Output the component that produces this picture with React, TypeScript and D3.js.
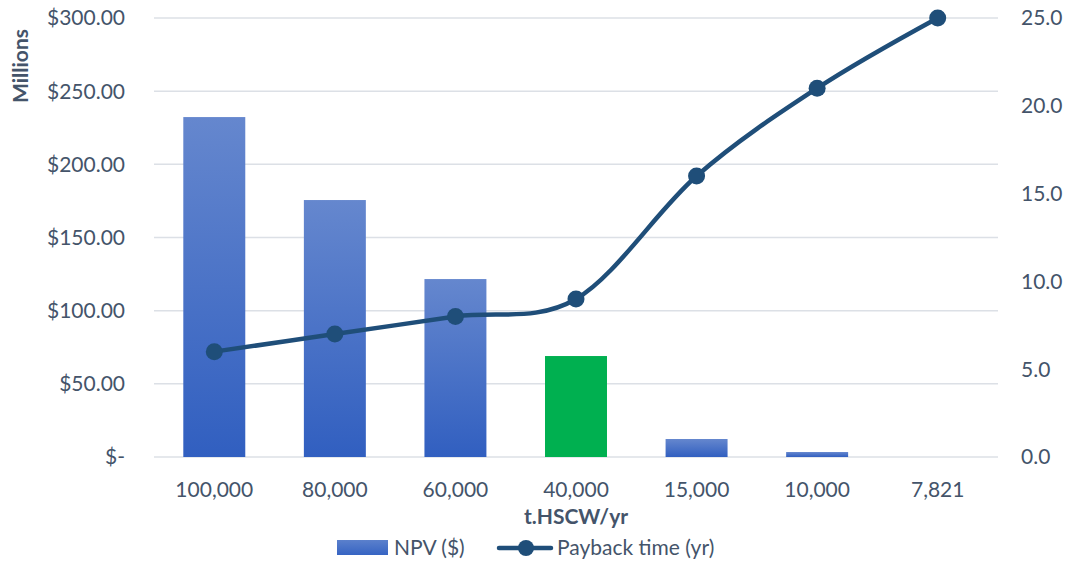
import React from "react";
import * as d3 from "d3";

const categories = ["100,000", "80,000", "60,000", "40,000", "15,000", "10,000", "7,821"];
const npvMillions = [232.3, 175.6, 121.6, 69.0, 12.3, 3.4, 0];
const paybackYears = [6, 7, 8, 9, 16, 21, 25];
const highlightCategory = "40,000";
const leftTicks = [0, 50, 100, 150, 200, 250, 300];
const rightTicks = [0, 5, 10, 15, 20, 25];

const W = 1070;
const H = 563;
const margin = { left: 154, right: 72, top: 18, bottom: 106 };
const FONT = "Lato, 'Open Sans', sans-serif";
const TEXT = "#44546A";
const FS = 21;

export default function App() {
  const x = d3
    .scaleBand<string>()
    .domain(categories)
    .range([margin.left, W - margin.right])
    .paddingInner(0.486)
    .paddingOuter(0.243);
  const yL = d3.scaleLinear().domain([0, 300]).range([H - margin.bottom, margin.top]);
  const yR = d3.scaleLinear().domain([0, 25]).range([H - margin.bottom, margin.top]);
  const cx = (c: string) => (x(c) as number) + x.bandwidth() / 2;

  const line = d3
    .line<number>()
    .x((_, i) => cx(categories[i]))
    .y((d) => yR(d))
    .curve(d3.curveCardinal.tension(0));

  const fmtLeft = (v: number) => (v === 0 ? "$-" : "$" + d3.format(",.2f")(v));

  return (
    <svg width={W} height={H} style={{ position: "absolute", left: 0, top: 0, background: "#fff" }}>
      <defs>
        <linearGradient id="barGrad" x1="0" y1="0" x2="0" y2="1">
          <stop offset="0%" stopColor="#6587CE" />
          <stop offset="100%" stopColor="#315FC0" />
        </linearGradient>
        <linearGradient id="legGrad" x1="0" y1="0" x2="0" y2="1">
          <stop offset="0%" stopColor="#5B80CC" />
          <stop offset="100%" stopColor="#3664C3" />
        </linearGradient>
      </defs>
      {leftTicks.map((t) => (
        <line
          key={"g" + t}
          x1={margin.left}
          x2={W - margin.right}
          y1={yL(t)}
          y2={yL(t)}
          stroke="#DCE0E6"
          strokeWidth={1.5}
        />
      ))}
      {categories.map((c, i) => {
        const v = npvMillions[i];
        if (v <= 0) return null;
        return (
          <rect
            key={c}
            x={x(c)}
            y={yL(v)}
            width={x.bandwidth()}
            height={yL(0) - yL(v)}
            fill={c === highlightCategory ? "#00B050" : "url(#barGrad)"}
          />
        );
      })}
      <path d={line(paybackYears) || ""} fill="none" stroke="#1F4E79" strokeWidth={4.5} />
      {paybackYears.map((v, i) => (
        <circle key={"p" + i} cx={cx(categories[i])} cy={yR(v)} r={8.5} fill="#1F4E79" />
      ))}
      {leftTicks.map((t) => (
        <text
          key={"l" + t}
          x={125}
          y={yL(t)}
          dy="0.35em"
          textAnchor="end"
          fontFamily={FONT}
          fontSize={FS}
          fill={TEXT}
        >
          {fmtLeft(t)}
        </text>
      ))}
      {rightTicks.map((t) => (
        <text
          key={"r" + t}
          x={1021}
          y={yR(t)}
          dy="0.35em"
          textAnchor="start"
          fontFamily={FONT}
          fontSize={FS}
          fill={TEXT}
        >
          {d3.format(".1f")(t)}
        </text>
      ))}
      {categories.map((c) => (
        <text
          key={"x" + c}
          x={cx(c)}
          y={490}
          dy="0.35em"
          textAnchor="middle"
          fontFamily={FONT}
          fontSize={FS}
          fill={TEXT}
        >
          {c}
        </text>
      ))}
      <text
        x={(margin.left + W - margin.right) / 2}
        y={517}
        dy="0.35em"
        textAnchor="middle"
        fontFamily={FONT}
        fontSize={FS}
        fontWeight="bold"
        fill={TEXT}
      >
        t.HSCW/yr
      </text>
      <text
        transform={`translate(21,66) rotate(-90)`}
        dy="0.35em"
        textAnchor="middle"
        fontFamily={FONT}
        fontSize={FS}
        fontWeight="bold"
        fill={TEXT}
      >
        Millions
      </text>
      <rect x={337} y={540} width={51} height={15} fill="url(#legGrad)" />
      <text x={394} y={548} dy="0.35em" fontFamily={FONT} fontSize={FS} fill={TEXT}>
        NPV ($)
      </text>
      <line x1={499} x2={551} y1={548} y2={548} stroke="#1F4E79" strokeWidth={4.5} strokeLinecap="round" />
      <circle cx={526} cy={548} r={8} fill="#1F4E79" />
      <text x={557} y={548} dy="0.35em" fontFamily={FONT} fontSize={FS} fill={TEXT}>
        Payback time (yr)
      </text>
    </svg>
  );
}
